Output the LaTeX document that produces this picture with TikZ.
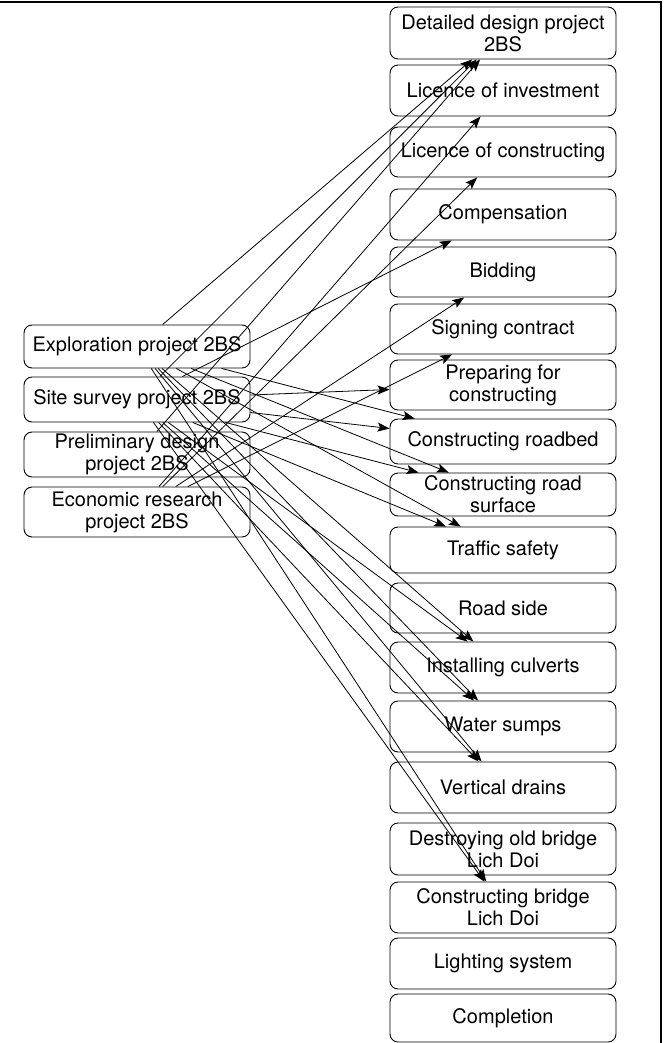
\documentclass[tikz,border=0pt]{standalone}
\usepackage{fontspec}
\setmainfont{TeX Gyre Heros}
\usetikzlibrary{arrows.meta}
\begin{document}
\begin{tikzpicture}[x=1pt,y=-1pt,
  box/.style={draw,rounded corners=8pt,minimum width=226pt,inner sep=0pt,align=center,
    font=\fontsize{20}{22}\selectfont,line width=0.9pt},
  arr/.style={-{Stealth[length=12pt,width=9pt,inset=2.5pt]},line width=0.8pt}]
\useasboundingbox (0,0) rectangle (664,1043);
% frame
\draw[line width=2pt] (0,2) -- (661,2) -- (661,1043);
% left column
\node[box,minimum height=43pt] (E) at (137,346.5) {Exploration project 2BS};
\node[box,minimum height=45pt] (S) at (137,399.5) {Site survey project 2BS};
\node[box,minimum height=45pt] (P) at (137,454.5) {Preliminary design\\project 2BS};
\node[box,minimum height=50pt] (C) at (137,512) {Economic research\\project 2BS};
% right column
\node[box,minimum height=52pt] (dd) at (503,33) {Detailed design project\\2BS};
\node[box,minimum height=51pt] (li) at (503,90.5) {Licence of investment};
\node[box,minimum height=50pt] (lc) at (503,152) {Licence of constructing};
\node[box,minimum height=51pt] (comp) at (503,214.5) {Compensation};
\node[box,minimum height=50pt] (bid) at (503,272) {Bidding};
\node[box,minimum height=50pt] (sign) at (503,329) {Signing contract};
\node[box,minimum height=50pt] (prep) at (503,385) {Preparing for\\constructing};
\node[box,minimum height=45pt] (rbed) at (503,441.5) {Constructing roadbed};
\node[box,minimum height=43pt] (rsurf) at (503,494.5) {Constructing road\\surface};
\node[box,minimum height=46pt] (traf) at (503,550) {Traffic safety};
\node[box,minimum height=50pt] (rside) at (503,608) {Road side};
\node[box,minimum height=51pt] (culv) at (503,667.5) {Installing culverts};
\node[box,minimum height=51pt] (sump) at (503,726.5) {Water sumps};
\node[box,minimum height=51pt] (drain) at (503,787.5) {Vertical drains};
\node[box,minimum height=52pt] (destr) at (503,849) {Destroying old bridge\\Lich Doi};
\node[box,minimum height=51pt] (bridge) at (503,907.5) {Constructing bridge\\Lich Doi};
\node[box,minimum height=51pt] (light) at (503,963.5) {Lighting system};
\node[box,minimum height=48pt] (compl) at (503,1018) {Completion};
% upward connectors
\draw[arr] (E) -- (dd);
\draw[arr] (S) -- (dd);
\draw[arr] (P) -- (dd);
\draw[arr] (C) -- (li);
\draw[arr] (C) -- (lc);
\draw[arr] (S) -- (comp);
\draw[arr] (C) -- (bid);
\draw[arr] (C) -- (sign);
\draw[arr] (S) -- (prep);
% downward connectors
\foreach \t in {rbed,rsurf,traf,culv,sump,drain,bridge}{
  \draw[arr] (E) -- (\t);
  \draw[arr] (S) -- (\t);
}
\end{tikzpicture}
\end{document}
